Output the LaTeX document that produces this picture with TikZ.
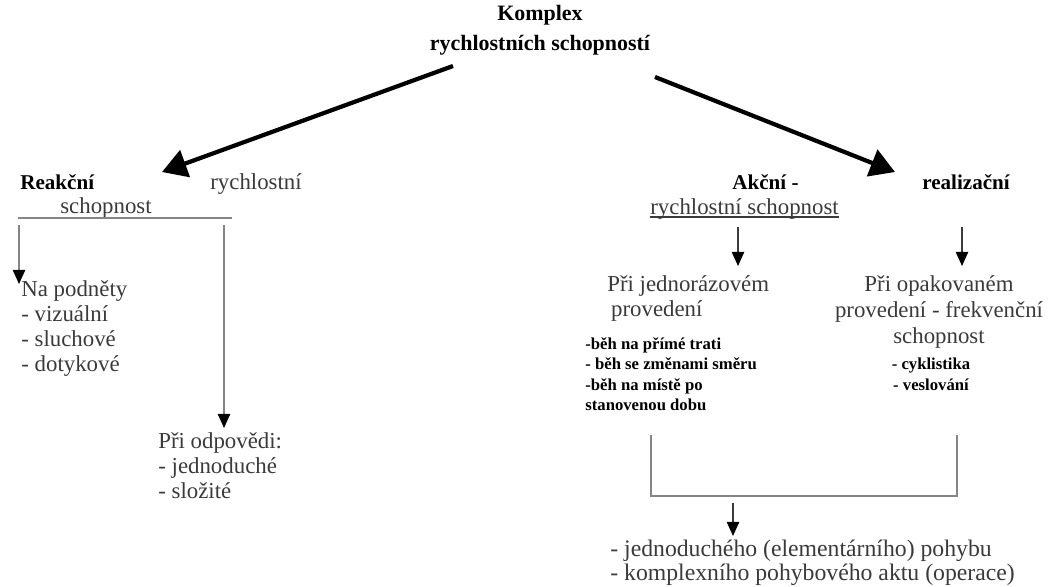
\documentclass[tikz,border=0pt]{standalone}
\usepackage{fontspec}
\setmainfont{Liberation Serif}
\usepackage{xcolor}
\definecolor{inkGray}{HTML}{3A3A3A}
\definecolor{lineGray}{HTML}{858585}
\usetikzlibrary{arrows.meta,positioning}
\tikzset{
    % plain text in dark gray
    plain text/.style={
        font=\fontsize{13}{14.3}\selectfont,
        text=inkGray,
        inner sep=0pt,
        align=left,
    },
    % bold headings
    heading/.style={
        font=\fontsize{12.5}{17}\selectfont\bfseries,
        text=black,
        inner sep=0pt,
        align=center,
    },
    % small bold lists of examples
    small list/.style={
        font=\fontsize{9.5}{11.7}\selectfont\bfseries,
        text=black,
        inner sep=0pt,
        align=left,
    },
    % thick arrows from the top heading
    big arrow/.style={
        -{Triangle[length=14pt, width=16pt]},
        line width=2.4pt,
    },
    % short thin arrows
    thin arrow/.style={
        -{Triangle[length=8pt, width=7pt, color=black]},
        line width=0.8pt,
        draw=inkGray,
    },
    % gray rules and brackets
    bracket/.style={
        line width=0.9pt,
        draw=lineGray,
    },
}

\begin{document}
\begin{tikzpicture}[x=0.02cm, y=-0.02cm]
    \useasboundingbox (0,0) rectangle (1049,586);

    \node (komplex) [heading] at (540,30) {Komplex\\rychlostních schopností};

    % left branch
    \node (reakcni) [heading, anchor=base west, font=\fontsize{12}{14}\selectfont\bfseries] at (20,189) {Reakční};
    \node (rychlL) [plain text, anchor=base west] at (210,189) {rychlostní};
    \node (schopL) [plain text, anchor=base west] at (60,213) {schopnost};
    \node (podnety) [plain text, anchor=north west] at (21,280) {Na podněty\\- vizuální\\- sluchové\\- dotykové};
    \node (odpoved) [plain text, anchor=north west] at (158,432) {Při odpovědi:\\- jednoduché\\- složité};

    % right branch
    \node (akcni) [heading, anchor=base west, font=\fontsize{12}{14}\selectfont\bfseries] at (732,189) {Akční -};
    \node (rychlR) [plain text, anchor=base west] at (650,214) {rychlostní schopnost};
    \node (realiz) [heading, anchor=base west, font=\fontsize{12}{14}\selectfont\bfseries] at (922,189) {realizační};
    \node (jednoraz) [plain text, anchor=north west] at (607,275) {Při jednorázovém\\\,provedení};
    \node (jednList) [small list, anchor=north west] at (585,337) {-běh na přímé trati\\- běh se změnami směru\\-běh na místě po\\stanovenou dobu};
    \node (opak) [plain text, anchor=north, align=center, font=\fontsize{13}{15}\selectfont] at (939,275) {Při opakovaném\\provedení - frekvenční\\schopnost};
    \node (opakList) [small list, anchor=north, align=center] at (931,358) {- cyklistika\\- veslování};
    \node (vysledek) [plain text, anchor=north west, font=\fontsize{13.5}{12.2}\selectfont] at (610,540) {- jednoduchého (elementárního) pohybu\\- komplexního pohybového aktu (operace)};

    % free ends of the connectors
    \coordinate (fromL) at (453,66);
    \coordinate (tipL) at (162,172);
    \coordinate (fromR) at (655,77);
    \coordinate (tipR) at (895,172);
    \coordinate (ruleL) at (18,218);
    \coordinate (ruleR) at (232,218);
    \coordinate (downL) at (19,225);
    \coordinate (downR) at (224,225);
    \coordinate (tipPod) at (19,284);
    \coordinate (tipOdp) at (224,428);
    \coordinate (fromAk) at (738,227);
    \coordinate (tipAk) at (738,266);
    \coordinate (fromRe) at (962,227);
    \coordinate (tipRe) at (962,266);
    \coordinate (brA) at (651,435);
    \coordinate (brB) at (957,435);
    \coordinate (fromBr) at (733,503);
    \coordinate (tipBr) at (733,536);

    \draw [big arrow] (fromL) -- (tipL);
    \draw [big arrow] (fromR) -- (tipR);

    \draw [bracket] (ruleL) -- (ruleR);
    \draw [thin arrow, draw=lineGray] (downL) -- (tipPod);
    \draw [thin arrow, draw=lineGray] (downR) -- (tipOdp);

    \draw [line width=0.8pt, draw=inkGray] ([yshift=-1.8pt]rychlR.base west) -- ([yshift=-1.8pt]rychlR.base east);
    \draw [thin arrow] (fromAk) -- (tipAk);
    \draw [thin arrow] (fromRe) -- (tipRe);

    \draw [bracket] (brA) |- (733,496) -| (brB);
    \draw [thin arrow] (fromBr) -- (tipBr);
\end{tikzpicture}
\end{document}
